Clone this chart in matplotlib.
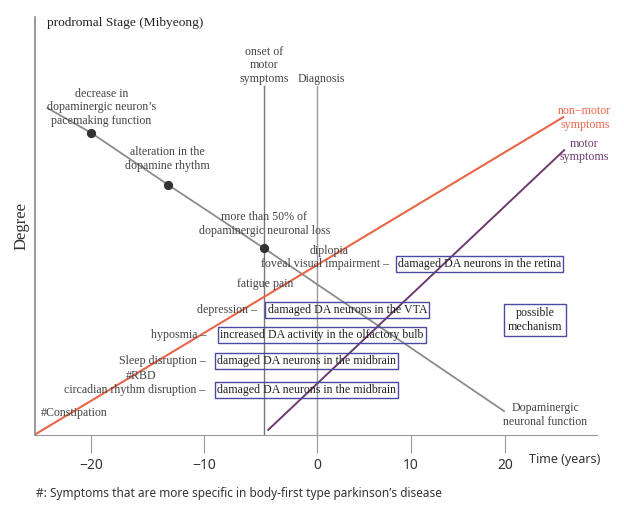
import matplotlib
matplotlib.use("Agg")
import matplotlib.pyplot as plt
import numpy as np

# time axis is drawn wider before diagnosis than after it
K = 11.3 / 9.4

def fwd(x):
    x = np.asarray(x, dtype=float)
    return np.where(x < 0, x * K, x)

def inv(x):
    x = np.asarray(x, dtype=float)
    return np.where(x < 0, x / K, x)

# data (years, degree 0-100)
da_x = [-23.9, -20, -13.2, -4.7, 19.9]
da_y = [78.2, 72.2, 59.8, 44.6, 5.6]
dot_x = [-20, -13.2, -4.7]
dot_y = [72.2, 59.8, 44.6]
nonmotor_x = [-25, 26.2]
nonmotor_y = [0, 76]
motor_x = [-4.34, 26.3]
motor_y = [1.1, 68.1]
onset_x = -4.7
diag_x = 0
vline_top = 83.5
xticks = [-20, -10, 0, 10, 20]

symptoms = ["foveal visual impairment \u2013", "depression \u2013", "hyposmia \u2013",
            "Sleep disruption \u2013", "circadian rhythm disruption \u2013"]
symptom_x = [7.7, -5.3, -9.8, -9.9, -9.9]
symptom_y = [40.8, 29.8, 23.8, 17.6, 10.7]
mechanisms = ["damaged DA neurons in the retina", "damaged DA neurons in the VTA",
              "increased DA activity in the olfactory bulb",
              "damaged DA neurons in the midbrain", "damaged DA neurons in the midbrain"]
mech_x = [8.6, -4.4, -8.6, -8.9, -8.9]

serif = "Liberation Serif"
gray_txt = "#444444"
box_col = "#4a4aa0"
red = "#e8654a"
purple = "#6e3a6e"

fig = plt.figure(figsize=(6.24, 5.05), dpi=100)
ax = fig.add_axes([35 / 624, (505 - 434.5) / 505, (597 - 35) / 624, 417.5 / 505])
ax.set_xscale("function", functions=(fwd, inv))
ax.set_xlim(-25, 29.8)
ax.set_ylim(0, 100)

ax.plot(da_x, da_y, color="#8c8c8c", lw=1.3, zorder=2)
ax.scatter(dot_x, dot_y, s=32, color="#333333", zorder=3)
ax.plot(nonmotor_x, nonmotor_y, color=red, lw=1.5, zorder=2)
ax.plot(motor_x, motor_y, color=purple, lw=1.4, zorder=2)
ax.plot([onset_x, onset_x], [0, vline_top], color="#777777", lw=1, zorder=1)
ax.plot([diag_x, diag_x], [0, vline_top], color="#999999", lw=1, zorder=1)

for s in ["top", "right"]:
    ax.spines[s].set_visible(False)
ax.spines["left"].set_color("#888888")
ax.spines["bottom"].set_color("#999999")
ax.spines["left"].set_linewidth(1.2)
ax.set_yticks([])
ax.set_xticks(xticks)
ax.set_xticklabels(["\u221220", "\u221210", "0", "10", "20"], family="Noto Sans",
                   fontsize=10, color="#333333")
ax.tick_params(axis="x", length=13, color="#999999", pad=4)
ax.text(22.55, -0.06, "Time (years)", transform=ax.get_xaxis_transform(), family="Noto Sans",
        fontsize=9, color="#333333", ha="left", va="center")
ax.set_ylabel("Degree", family=serif, fontsize=12, color="#333333", labelpad=4)

kw = dict(family=serif, fontsize=8.6, color=gray_txt, linespacing=1.15)
ax.text(-23.9, 98.6, "prodromal Stage (Mibyeong)", family=serif, fontsize=9.6,
        color="#222222", ha="left", va="center")
ax.text(onset_x, 83.8, "onset of\nmotor\nsymptoms", ha="center", va="bottom", **kw)
ax.text(0.4, 83.8, "Diagnosis", ha="center", va="bottom", **kw)
ax.text(-19.1, 78.4, "decrease in\ndopaminergic neuron\u2019s\npacemaking function",
        ha="center", va="center", **kw)
ax.text(-13.3, 66.0, "alteration in the\ndopamine rhythm", ha="center", va="center", **kw)
ax.text(-4.7, 50.4, "more than 50% of\ndopaminergic neuronal loss", ha="center", va="center", **kw)
ax.text(1.3, 44.0, "diplopia", ha="center", va="center", **kw)
ax.text(-4.6, 36.0, "fatigue pain", ha="center", va="center", **kw)
ax.text(-17.0, 14.0, "#RBD", ha="left", va="center", **kw)
ax.text(-24.5, 5.1, "#Constipation", ha="left", va="center", **kw)
ax.text(24.3, 4.7, "Dopaminergic\nneuronal function", ha="center", va="center", **kw)

for t, x, y in zip(symptoms, symptom_x, symptom_y):
    ax.text(x, y, t, ha="right", va="center", **kw)
for t, x, y in zip(mechanisms, mech_x, symptom_y):
    ax.text(x, y, t, ha="left", va="center", family=serif, fontsize=8.6, color="#222222",
            bbox=dict(boxstyle="square,pad=0.18", fc="none", ec=box_col, lw=1), zorder=4)
ax.text(23.2, 27.4, "possible\nmechanism", ha="center", va="center", family=serif,
        fontsize=8.6, color="#222222", linespacing=1.15,
        bbox=dict(boxstyle="square,pad=0.3", fc="none", ec=box_col, lw=1), zorder=4)

ax.text(28.5, 75.8, "non\u2212motor\nsymptoms", ha="center", va="center", family=serif,
        fontsize=8.6, color=red, linespacing=1.15)
ax.text(28.4, 68.1, "motor\nsymptoms", ha="center", va="center", family=serif,
        fontsize=8.6, color=purple, linespacing=1.15)

fig.text(36 / 624, 1 - 494 / 505, "#: Symptoms that are more specific in body-first type parkinson\u2019s disease",
         family="Noto Sans", fontsize=8.5, color="#333333", ha="left", va="center")

fig.savefig("out.png", dpi=100, facecolor="white")
